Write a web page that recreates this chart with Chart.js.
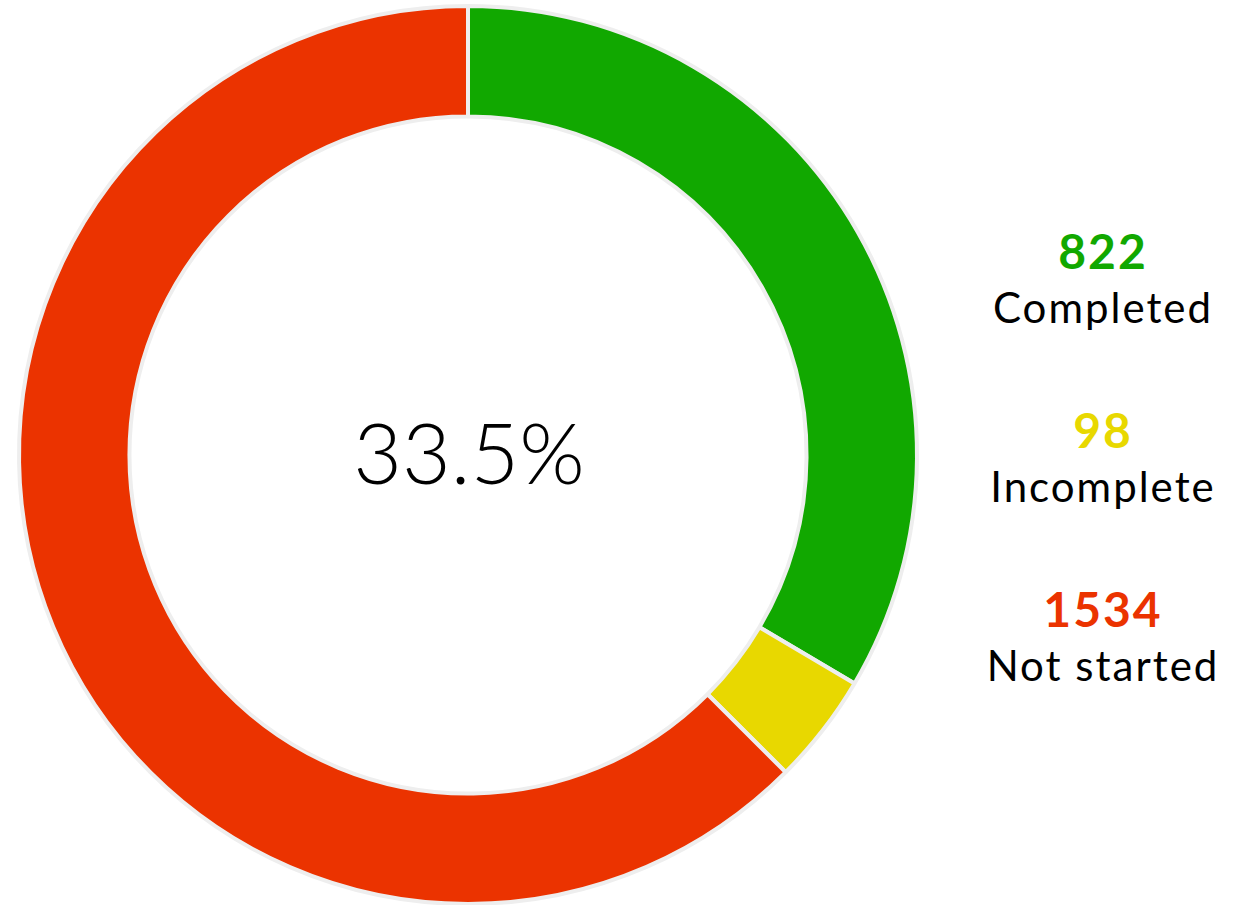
<!DOCTYPE html>
<html>
<head>
<meta charset="utf-8">
<script src="https://cdn.jsdelivr.net/npm/chart.js@4"></script>
<style>
  body { margin: 0; background: #fff; width: 1245px; height: 905px; overflow: hidden; font-family: Lato, "Open Sans", sans-serif; }
  #wrap { position: absolute; left: 0; top: 0; width: 936px; height: 910px; }
  #legenda { position: absolute; left: 975px; top: 223px; width: 256px; text-align: center; }
  .item { height: 179px; }
  .num { font-weight: 700; font-size: 48px; line-height: 56px; letter-spacing: 2px; }
  .txt { font-size: 42px; line-height: 56px; color: #000; letter-spacing: 2px; }
</style>
</head>
<body>
<div id="wrap"><canvas id="grafico"></canvas></div>
<div id="legenda"></div>
<script>
let labels=["Completed","Incomplete","Not started"]
let valores=[822,98,1534]
let cores=["#11a800","#e8d800","#eb3300"]

const total=valores.reduce((a,b)=>a+b,0)
const percentual=(valores[0]/total*100).toFixed(1)+"%"

const textoCentro={
  id:'textoCentro',
  afterDraw(chart){
    const c=chart.ctx
    const m=chart.getDatasetMeta(0).data[0]
    c.save()
    c.font='300 84px Lato, "Open Sans", sans-serif'
    c.fillStyle='#000'
    c.textAlign='center'
    c.textBaseline='middle'
    c.fillText(percentual,m.x+1,m.y+2)
    c.restore()
  }
}

const ctx=document.getElementById('grafico')
let grafico=new Chart(ctx,{
  type:'doughnut',
  data:{
    labels:labels,
    datasets:[{
      data:valores,
      backgroundColor:cores,
      borderColor:'#eeeeee',
      borderWidth:4
    }]
  },
  options:{
    responsive:true,
    maintainAspectRatio:false,
    animation:false,
    cutout:'75.4%',
    layout:{padding:4},
    plugins:{legend:{display:false},tooltip:{enabled:false}}
  },
  plugins:[textoCentro]
})

const leg=document.getElementById('legenda')
labels.forEach((l,i)=>{
  const d=document.createElement('div')
  d.className='item'
  d.innerHTML='<div class="num" style="color:'+cores[i]+'">'+valores[i]+'</div><div class="txt">'+l+'</div>'
  leg.appendChild(d)
})
</script>
</body>
</html>
